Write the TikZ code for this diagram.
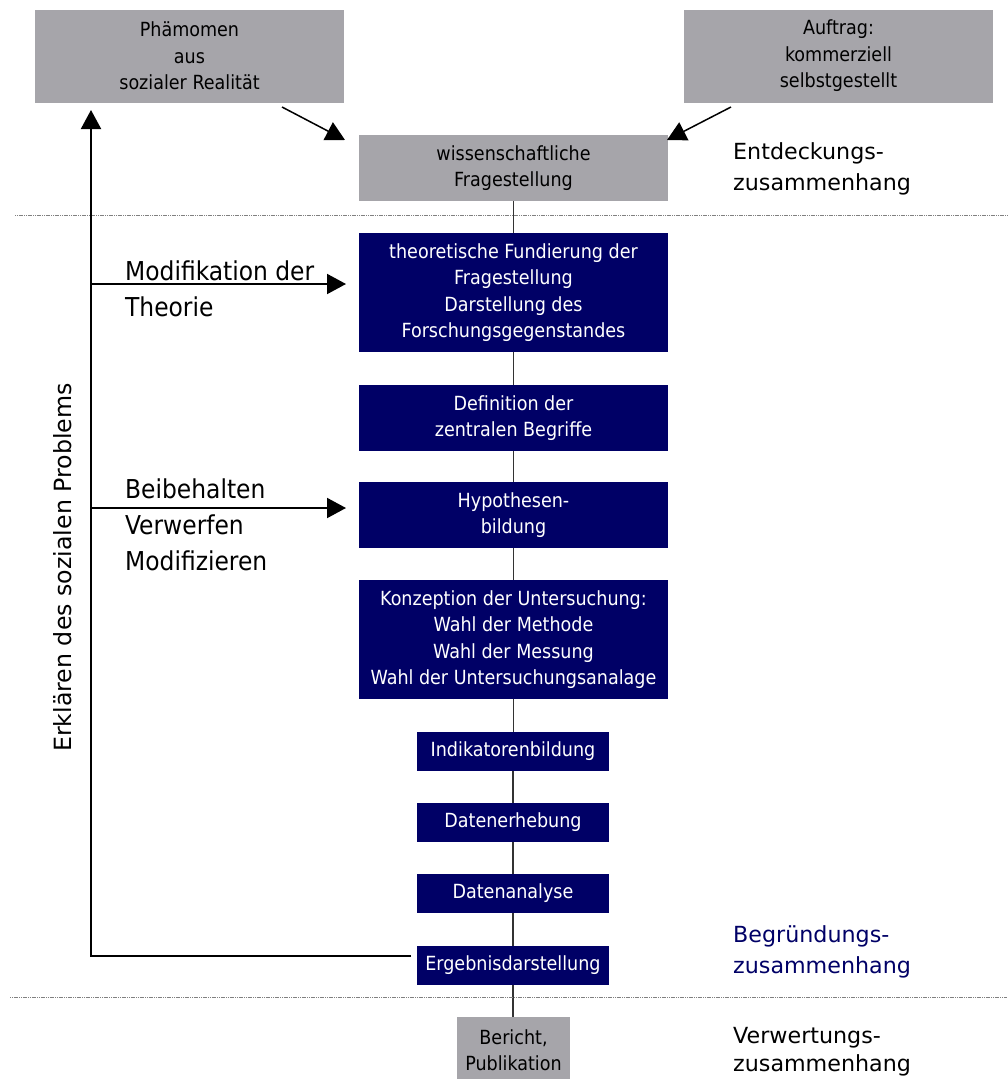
\documentclass[tikz,border=0pt]{standalone}
\usepackage{fontspec}
\setmainfont{DejaVu Sans Condensed}
\newfontfamily\widefont{DejaVu Sans}
\usetikzlibrary{arrows.meta}
\definecolor{boxgray}{RGB}{166,165,170}
\definecolor{navy}{RGB}{0,0,102}
\tikzset{
  graybox/.style  = {fill=boxgray, inner sep=0pt, align=center,
                     font=\fontsize{19.5}{26.5}\selectfont},
  navybox/.style  = {graybox, fill=navy, text=white},
  smallbox/.style = {navybox, minimum width=192, minimum height=39},
  wide/.style     = {minimum width=309},
  link/.style     = {line width=1.3pt, black!80},
  arr/.style      = {line width=2pt, -{Triangle[length=19pt,width=20pt]}},
  sepline/.style  = {line width=1pt, gray, dash pattern=on 1.2pt off 0.6pt},
  phase/.style    = {anchor=north west, inner sep=0pt, align=left,
                     font=\widefont\fontsize{22.2}{31.5}\selectfont},
  note/.style     = {anchor=north west, inner sep=0pt, align=left,
                     font=\fontsize{26}{36}\selectfont},
}

\begin{document}
\begin{tikzpicture}[x=1pt,y=-1pt]
  \useasboundingbox (0,0) rectangle (1007,1079);
  % sources of the question
  \node[graybox, wide, minimum height=93] (pheno) at (189.5,56) {Phämomen\\aus\\sozialer Realität};
  \node[graybox, wide, minimum height=93] (auftrag) at (838.5,56) {Auftrag:\\kommerziell\\selbstgestellt};
  \node[graybox, wide, minimum height=66] (frage) at (513.5,168) {wissenschaftliche\\Fragestellung};
  % research steps
  \node[navybox, wide, minimum height=119] (fund) at (513.5,292.5) {theoretische Fundierung der\\Fragestellung\\Darstellung des\\Forschungsgegenstandes};
  \node[navybox, wide, minimum height=66] (begriffe) at (513.5,418) {Definition der\\zentralen Begriffe};
  \node[navybox, wide, minimum height=66] (hypo) at (513.5,515) {Hypothesen-\\bildung};
  \node[navybox, wide, minimum height=119] (konz) at (513.5,639.5) {Konzeption der Untersuchung:\\Wahl der Methode\\Wahl der Messung\\Wahl der Untersuchungsanalage};
  \node[smallbox] (indik) at (513,751.5) {Indikatorenbildung};
  \node[smallbox] (erheb) at (513,822.5) {Datenerhebung};
  \node[smallbox] (analyse) at (513,893.5) {Datenanalyse};
  \node[smallbox] (ergeb) at (513,965.5) {Ergebnisdarstellung};
  \node[graybox, minimum width=113, minimum height=66] (bericht) at (513.5,1050) {Bericht,\\Publikation};
  %
  \foreach \a/\b in {frage/fund, fund/begriffe, begriffe/hypo, hypo/konz, konz/indik,
                     indik/erheb, erheb/analyse, analyse/ergeb, ergeb/bericht}
    \draw[link] (\a.south) -- (\a.south |- \b.north);
  %
  \draw[sepline] (15,215) -- (1007,215);
  \draw[sepline] (10,997) -- (1007,997);
  % arrows into the question
  \coordinate (p1) at (282,107); \coordinate (p2) at (345,140);
  \coordinate (a1) at (731,107); \coordinate (a2) at (667,140);
  \draw[arr, line width=1.5pt] (p1) -- (p2);
  \draw[arr, line width=1.5pt] (a1) -- (a2);
  % feedback loop
  \coordinate (fb) at (411,956);
  \coordinate (up) at (91,110);
  \coordinate (m1) at (91,284); \coordinate (m2) at (346,284);
  \coordinate (h1) at (91,508); \coordinate (h2) at (346,508);
  \draw[arr] (fb) -- (fb -| up) -- (up);
  \draw[arr] (m1) -- (m2);
  \draw[arr] (h1) -- (h2);
  \node[note] (modl) at (125,261) {Modifikation der\\Theorie};
  \node[note] (beil) at (125,479) {Beibehalten\\Verwerfen\\Modifizieren};
  \node[rotate=90, inner sep=0pt, font=\widefont\fontsize{23.7}{28}\selectfont] (erkl) at (63,567.5) {Erklären des sozialen Problems};
  % phases
  \node[phase] (entd) at (733,142) {Entdeckungs-\\zusammenhang};
  \node[phase, text=navy] (begr) at (733,925) {Begründungs-\\zusammenhang};
  \node[phase, font=\widefont\fontsize{22.2}{28}\selectfont] (verw) at (733,1027) {Verwertungs-\\zusammenhang};
\end{tikzpicture}
\end{document}
